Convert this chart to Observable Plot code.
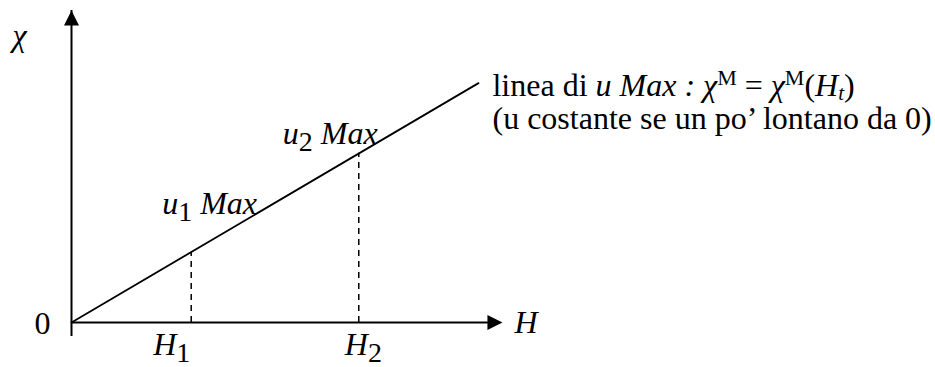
<!DOCTYPE html>
<html><head><meta charset="utf-8">
<script src="https://cdn.jsdelivr.net/npm/d3@7"></script>
<script src="https://cdn.jsdelivr.net/npm/@observablehq/plot@0.6"></script>
<style>body{margin:0;background:#fff}</style>
</head><body><div id="chart"></div>
<script>
// ---- data (abstract units: H along x, χ along y) ----
const lineH = [0, 10.2];          // line of u Max: start and end
const lineChi = [0, 6.0];
const dropLabels = ["H1", "H2"];  // field values marked on H axis
const dropH = [3, 7.2];
const dropChi = [1.76, 4.24];
const maxLabels = ["u1 Max", "u2 Max"];
const axisHMax = 10.8;            // arrow tip of H axis
const axisChiMax = 7.82;          // arrow tip of χ axis
const originLabel = "0";
const hAxisLabel = "H";
const chiAxisLabel = "χ";
const noteLines = ["linea di u Max : χM = χM(Ht)", "(u costante se un po’ lontano da 0)"];

// rich text formatting for the labels (italic / sub / sup)
const rich = new Map([
  ["χ", [["χ", "i"]]],
  ["H", [["H", "i"]]],
  ["H1", [["H", "i"], ["1", "sub"]]],
  ["H2", [["H", "i"], ["2", "sub"]]],
  ["u1 Max", [["u", "i"], ["1", "sub"], [" Max", "i"]]],
  ["u2 Max", [["u", "i"], ["2", "sub"], [" Max", "i"]]],
  [noteLines[0], [["linea di ", ""], ["u Max :", "i"], [" ", ""], ["χ", "i"], ["M", "sup"], [" = ", ""], ["χ", "i"], ["M", "sup"], ["(", ""], ["H", "i"], ["t", "isubs"], [")", ""]]]
]);

const line = lineH.map((h, i) => ({h, chi: lineChi[i]}));
const drops = dropH.map((h, i) => ({h, chi: dropChi[i], label: dropLabels[i], max: maxLabels[i]}));

const triUp = {draw(ctx, size) { const k = Math.sqrt(size / Math.PI); ctx.moveTo(0, 0); ctx.lineTo(-k / 2, k); ctx.lineTo(k / 2, k); ctx.closePath(); }};
const triRight = {draw(ctx, size) { const k = Math.sqrt(size / Math.PI); ctx.moveTo(0, 0); ctx.lineTo(-k, -k / 2); ctx.lineTo(-k, k / 2); ctx.closePath(); }};

const font = {fontFamily: "Liberation Serif", fontSize: 32, fill: "black", lineAnchor: "bottom", textAnchor: "start"};
const dropOffsets = [[-38, 32], [-14, 32]];
const maxOffsets = [[-29, -38.6], [-76, -9.6]];

const marks = [
  Plot.ruleX([0], {y1: 0, y2: axisChiMax, insetTop: 14, stroke: "black", strokeWidth: 2}),
  Plot.ruleY([0], {x1: 0, x2: axisHMax, insetRight: 14, stroke: "black", strokeWidth: 2}),
  Plot.dot([{h: 0, chi: axisChiMax}], {x: "h", y: "chi", symbol: triUp, r: 15, fill: "black", stroke: "none"}),
  Plot.dot([{h: axisHMax, chi: 0}], {x: "h", y: "chi", symbol: triRight, r: 15, fill: "black", stroke: "none"}),
  Plot.line(line, {x: "h", y: "chi", stroke: "black", strokeWidth: 1.8}),
  Plot.ruleX(drops, {x: "h", y1: 0, y2: "chi", stroke: "black", strokeWidth: 1.5, strokeDasharray: "6,5"}),
  Plot.text([{h: 0, chi: axisChiMax}], {x: "h", y: "chi", text: () => chiAxisLabel, dx: -59, dy: 36, ...font}),
  Plot.text([{h: 0, chi: 0}], {x: "h", y: "chi", text: () => originLabel, dx: -37, dy: 11, ...font}),
  Plot.text([{h: axisHMax, chi: 0}], {x: "h", y: "chi", text: () => hAxisLabel, dx: 12, dy: 10, ...font}),
  ...drops.map((d, i) => Plot.text([d], {x: "h", y: () => 0, text: "label", dx: dropOffsets[i][0], dy: dropOffsets[i][1], ...font})),
  ...drops.map((d, i) => Plot.text([d], {x: "h", y: "chi", text: "max", dx: maxOffsets[i][0], dy: maxOffsets[i][1], ...font})),
  Plot.text([line[1]], {x: "h", y: "chi", text: () => noteLines[0], dx: 14, dy: 12.4, ...font}),
  Plot.text([line[1]], {x: "h", y: "chi", text: () => noteLines[1], dx: 14, dy: 46, ...font})
];

const svg = Plot.plot({
  width: 935,
  height: 367,
  margin: 0,
  x: {domain: [0, 10], range: [71, 470], axis: null},
  y: {domain: [0, 6], range: [322, 82.6], axis: null},
  style: {background: "white", overflow: "visible"},
  marks
});

// apply italic / subscript / superscript formatting as tspans
d3.select(svg).selectAll("text").each(function () {
  const segs = rich.get(this.textContent);
  if (!segs) return;
  const t = d3.select(this);
  t.text(null);
  let shift = 0;
  for (const [s, st] of segs) {
    const ts = t.append("tspan").text(s);
    let target = 0;
    if (st.includes("i")) ts.attr("font-style", "italic");
    if (st === "sub") { target = 7; ts.attr("font-size", 28); }
    if (st === "isubs") { target = 4; ts.attr("font-size", 21); }
    if (st === "sup") { target = -11; ts.attr("font-size", 22); }
    if (target !== shift) { ts.attr("dy", target - shift); shift = target; }
  }
});

document.getElementById("chart").appendChild(svg);
</script>
</body></html>
